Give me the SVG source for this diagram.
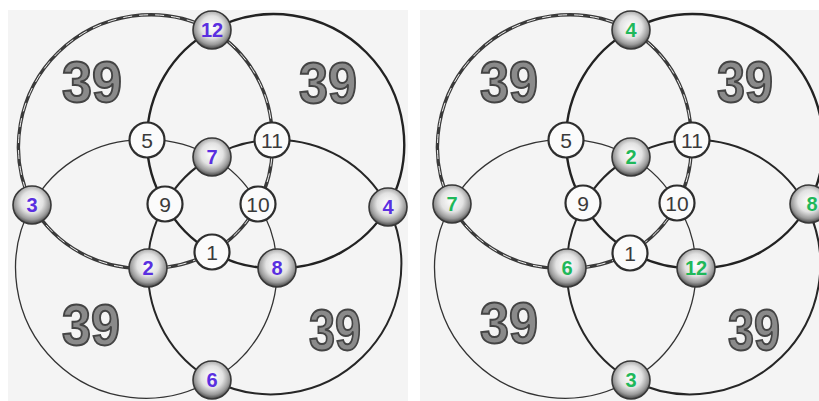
<svg xmlns="http://www.w3.org/2000/svg" width="819" height="401" viewBox="0 0 819 401">
<defs>
<radialGradient id="sph" cx="50%" cy="42%" r="58%">
<stop offset="0%" stop-color="#ffffff"/>
<stop offset="50%" stop-color="#e2e2e2"/>
<stop offset="80%" stop-color="#9a9a9a"/>
<stop offset="100%" stop-color="#444444"/>
</radialGradient>
<style>
.bg{fill:#f4f4f4}
.tl{fill:none;stroke:#3a3a3a;stroke-width:3.4}
.tld{fill:none;stroke:#eeeeee;stroke-width:1;stroke-dasharray:9 7}
.tr{fill:none;stroke:#222;stroke-width:2.4}
.br{fill:none;stroke:#262626;stroke-width:2}
.bl{fill:none;stroke:#333;stroke-width:1.3}
.wn{fill:#fbfbfb;stroke:#2e2e2e;stroke-width:2.2}
.cn{fill:url(#sph);stroke:#383838;stroke-width:1.6}
.wt{font-family:"Liberation Sans",Arial,sans-serif;font-size:21px;fill:#3a3a3a;text-anchor:middle}
.pt{font-family:"Liberation Sans",Arial,sans-serif;font-size:20px;font-weight:bold;fill:#5a2fe0;text-anchor:middle}
.gt{font-family:"Liberation Sans",Arial,sans-serif;font-size:20px;font-weight:bold;fill:#1fb85a;text-anchor:middle}
.big{font-family:"Liberation Sans",Arial,sans-serif;font-size:57px;font-weight:bold;fill:#8a8a8a;stroke:#444;stroke-width:2;text-anchor:middle}
</style>
</defs>
<rect width="819" height="401" fill="#ffffff"/>

<g id="left-panel">
<rect class="bg" x="8" y="10" width="400" height="391"/>
<g id="left-labels">
<text class="big" x="92" y="102" textLength="60" lengthAdjust="spacingAndGlyphs">39</text>
<text class="big" x="328" y="103" textLength="58" lengthAdjust="spacingAndGlyphs">39</text>
<text class="big" x="91" y="345" textLength="58" lengthAdjust="spacingAndGlyphs">39</text>
<text class="big" x="335" y="350" textLength="52" lengthAdjust="spacingAndGlyphs">39</text>
</g>
<g id="left-connectors">
<path class="bl" d="M32,205 A125,125 0 0 1 147,140 A120,120 0 0 1 212,157 A120,120 0 0 1 258,204 A120,120 0 0 1 277,268 A125,125 0 0 1 212,380 A130,130 0 0 1 32,205"/>
<path class="br" d="M388,207 A130,130 0 0 1 212,380 A125,125 0 0 1 148,268 A120,120 0 0 1 165,204 A120,120 0 0 1 212,157 A120,120 0 0 1 272,140 A125,125 0 0 1 388,207"/>
<path class="tr" d="M212,30 A130,130 0 0 1 388,207 A125,125 0 0 1 277,268 A120,120 0 0 1 212,252 A120,120 0 0 1 165,204 A120,120 0 0 1 147,140 A125,125 0 0 1 212,30"/>
<path class="tl" d="M32,205 A132,132 0 0 1 212,30 A125,125 0 0 1 272,140 A120,120 0 0 1 258,204 A120,120 0 0 1 212,252 A120,120 0 0 1 148,268 A125,125 0 0 1 32,205"/>
<path class="tld" d="M32,205 A132,132 0 0 1 212,30 A125,125 0 0 1 272,140 A120,120 0 0 1 258,204 A120,120 0 0 1 212,252 A120,120 0 0 1 148,268 A125,125 0 0 1 32,205"/>
</g>
<g id="L-n12"><circle class="cn" cx="212" cy="30" r="19"/><text class="pt" x="212" y="37">12</text></g>
<g id="L-n3"><circle class="cn" cx="32" cy="205" r="19"/><text class="pt" x="32" y="212">3</text></g>
<g id="L-n4"><circle class="cn" cx="388" cy="207" r="19"/><text class="pt" x="388" y="214">4</text></g>
<g id="L-n6"><circle class="cn" cx="212" cy="380" r="19"/><text class="pt" x="212" y="387">6</text></g>
<g id="L-n7"><circle class="cn" cx="212" cy="157" r="19"/><text class="pt" x="212" y="164">7</text></g>
<g id="L-n2"><circle class="cn" cx="148" cy="268" r="19"/><text class="pt" x="148" y="275">2</text></g>
<g id="L-n8"><circle class="cn" cx="277" cy="268" r="19"/><text class="pt" x="277" y="275">8</text></g>
<g id="L-n5"><circle class="wn" cx="147" cy="140" r="17.5"/><text class="wt" x="147" y="147.5">5</text></g>
<g id="L-n11"><circle class="wn" cx="272" cy="140" r="17.5"/><text class="wt" x="272" y="147.5">11</text></g>
<g id="L-n9"><circle class="wn" cx="165" cy="204" r="17.5"/><text class="wt" x="165" y="211.5">9</text></g>
<g id="L-n10"><circle class="wn" cx="258" cy="204" r="17.5"/><text class="wt" x="258" y="211.5">10</text></g>
<g id="L-n1"><circle class="wn" cx="212" cy="252" r="17.5"/><text class="wt" x="212" y="259.5">1</text></g>
</g>

<g id="right-panel" transform="translate(419,0)">
<rect class="bg" x="1" y="10" width="400" height="391"/>
<g id="right-labels">
<text class="big" x="90" y="102" textLength="58" lengthAdjust="spacingAndGlyphs">39</text>
<text class="big" x="326" y="102" textLength="56" lengthAdjust="spacingAndGlyphs">39</text>
<text class="big" x="90" y="343" textLength="58" lengthAdjust="spacingAndGlyphs">39</text>
<text class="big" x="335" y="350" textLength="52" lengthAdjust="spacingAndGlyphs">39</text>
</g>
<g id="right-connectors">
<path class="bl" d="M32,205 A125,125 0 0 1 147,140 A120,120 0 0 1 212,157 A120,120 0 0 1 258,204 A120,120 0 0 1 277,268 A125,125 0 0 1 212,380 A130,130 0 0 1 32,205"/>
<path class="br" d="M388,207 A130,130 0 0 1 212,380 A125,125 0 0 1 148,268 A120,120 0 0 1 165,204 A120,120 0 0 1 212,157 A120,120 0 0 1 272,140 A125,125 0 0 1 388,207"/>
<path class="tr" d="M212,30 A130,130 0 0 1 388,207 A125,125 0 0 1 277,268 A120,120 0 0 1 212,252 A120,120 0 0 1 165,204 A120,120 0 0 1 147,140 A125,125 0 0 1 212,30"/>
<path class="tl" d="M32,205 A132,132 0 0 1 212,30 A125,125 0 0 1 272,140 A120,120 0 0 1 258,204 A120,120 0 0 1 212,252 A120,120 0 0 1 148,268 A125,125 0 0 1 32,205"/>
<path class="tld" d="M32,205 A132,132 0 0 1 212,30 A125,125 0 0 1 272,140 A120,120 0 0 1 258,204 A120,120 0 0 1 212,252 A120,120 0 0 1 148,268 A125,125 0 0 1 32,205"/>
</g>
<g id="R-n4"><circle class="cn" cx="212" cy="30" r="19"/><text class="gt" x="212" y="37">4</text></g>
<g id="R-n7"><circle class="cn" cx="33" cy="204" r="19"/><text class="gt" x="33" y="211">7</text></g>
<g id="R-n8"><circle class="cn" cx="390" cy="204" r="19"/><text class="gt" x="393" y="211">8</text></g>
<g id="R-n3"><circle class="cn" cx="212" cy="380" r="19"/><text class="gt" x="212" y="387">3</text></g>
<g id="R-n2"><circle class="cn" cx="212" cy="157" r="19"/><text class="gt" x="212" y="164">2</text></g>
<g id="R-n6"><circle class="cn" cx="148" cy="268" r="19"/><text class="gt" x="148" y="275">6</text></g>
<g id="R-n12"><circle class="cn" cx="277" cy="268" r="19"/><text class="gt" x="277" y="275">12</text></g>
<g id="R-n5"><circle class="wn" cx="147" cy="140" r="17.5"/><text class="wt" x="147" y="147.5">5</text></g>
<g id="R-n11"><circle class="wn" cx="273" cy="140" r="17.5"/><text class="wt" x="273" y="147.5">11</text></g>
<g id="R-n9"><circle class="wn" cx="164" cy="203" r="17.5"/><text class="wt" x="164" y="210.5">9</text></g>
<g id="R-n10"><circle class="wn" cx="258" cy="203" r="17.5"/><text class="wt" x="258" y="210.5">10</text></g>
<g id="R-n1"><circle class="wn" cx="211" cy="253" r="17.5"/><text class="wt" x="211" y="260.5">1</text></g>
</g>
</svg>
